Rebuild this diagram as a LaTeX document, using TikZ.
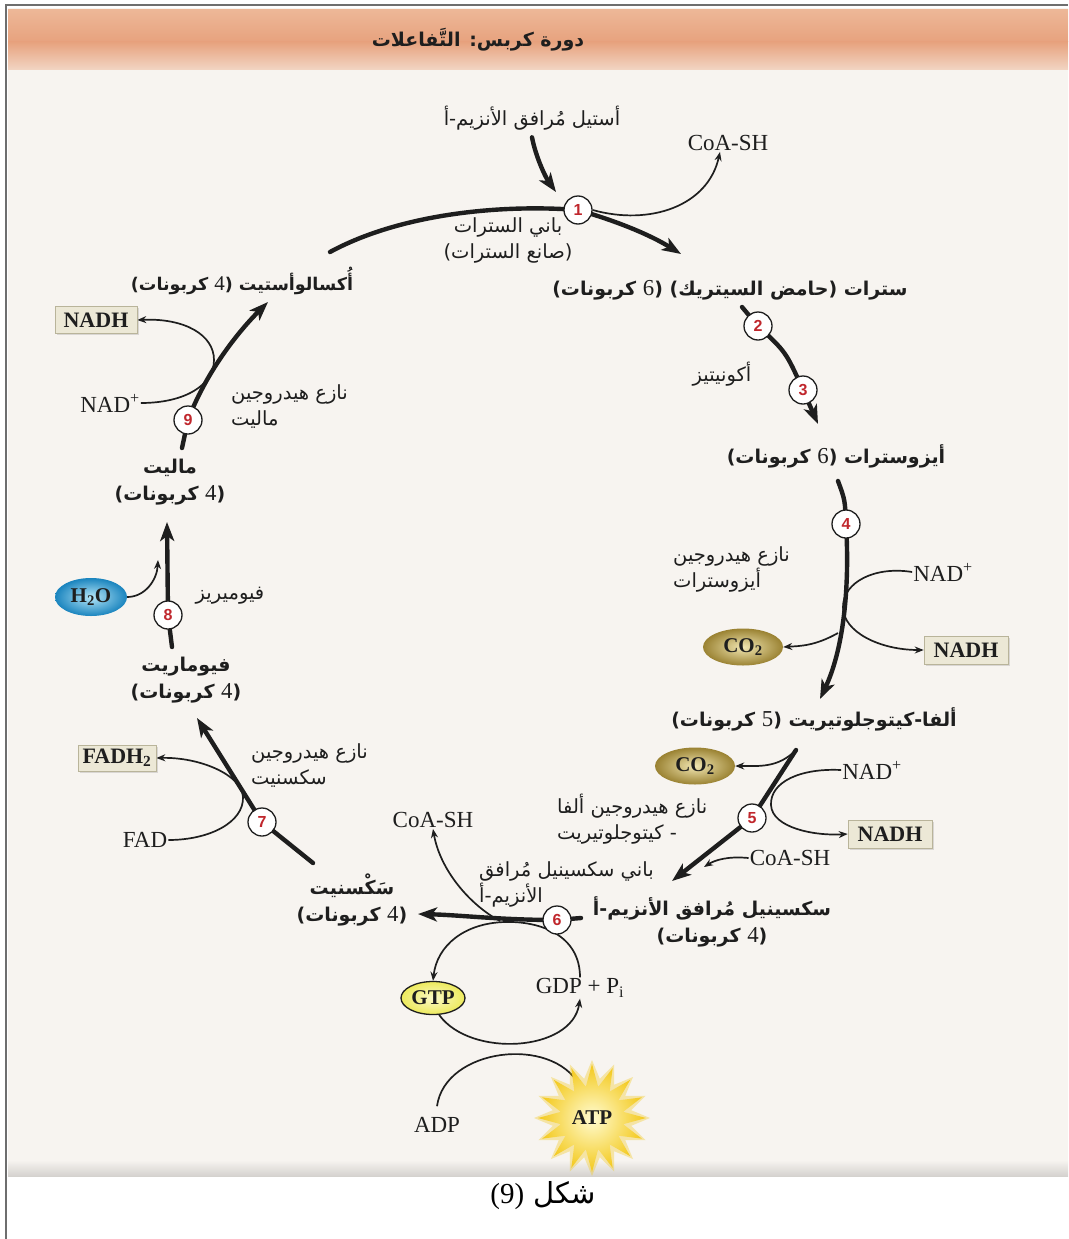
\documentclass[tikz,border=0pt]{standalone}
\usepackage{fontspec}
\setmainfont{Liberation Serif}
\newfontfamily\arfont[Script=Arabic]{DejaVu Sans}
\newfontfamily\numfont{Liberation Sans}
\newfontfamily\digfont[Scale=1.2]{Liberation Serif}
\TeXXeTstate=1
\usetikzlibrary{arrows.meta,shapes.geometric,shadows}

\definecolor{paper}{HTML}{F7F4F0}
\definecolor{hdrA}{HTML}{EDB797}
\definecolor{hdrB}{HTML}{E7A27E}
\definecolor{stepred}{HTML}{C0272D}
\definecolor{boxfill}{HTML}{ECE8D6}
\definecolor{boxedge}{HTML}{B9B49A}
\definecolor{co2in}{HTML}{F1E6B2}
\definecolor{co2out}{HTML}{9A8232}
\definecolor{h2oin}{HTML}{B4E6F8}
\definecolor{h2oout}{HTML}{1A84BE}
\definecolor{gtpin}{HTML}{FBFAC8}
\definecolor{gtpout}{HTML}{EDEA5C}
\definecolor{atpin}{HTML}{FFFBD0}
\definecolor{atpout}{HTML}{F3C81A}
\definecolor{ink}{HTML}{1E1E1E}
\definecolor{framegray}{HTML}{6E6E6E}

% right-to-left Arabic line, and a Latin digit inside it
\newcommand{\AR}[1]{\beginR #1\endR}
\newcommand{\dg}[1]{{\digfont\mdseries #1}}

\pgfdeclarelayer{paperlayer}
\pgfdeclarelayer{links}
\pgfsetlayers{paperlayer,links,main}

\begin{document}
\begin{tikzpicture}[x=1pt,y=-1pt,
  stepc/.style={circle,draw=ink,line width=1.3pt,fill=white,minimum size=28pt,inner sep=0pt,
    font=\numfont\bfseries\fontsize{16}{16}\selectfont,text=stepred},
  mainarr/.style={draw=ink,line width=4.4pt,line cap=round,line join=round,
    -{Stealth[length=19pt,width=14pt,inset=5pt]}},
  mainline/.style={draw=ink,line width=4.4pt,line cap=round,line join=round},
  thinarr/.style={draw=ink,line width=1.7pt,-{Stealth[length=9pt,width=7pt]}},
  lat/.style={font=\fontsize{23}{26}\selectfont,inner sep=1pt,text=ink},
  cmpd/.style={font=\arfont\bfseries\fontsize{19}{27}\selectfont,align=center,inner sep=1pt,text=ink},
  enz/.style={font=\arfont\fontsize{19.5}{26}\selectfont,inner sep=1pt,text=ink},
  carrier/.style={draw=boxedge,line width=0.6pt,fill=boxfill,
    font=\bfseries\fontsize{22}{22}\selectfont,text=ink,
    minimum width=84pt,minimum height=28pt,inner sep=2pt,
    drop shadow={shadow xshift=1.5pt,shadow yshift=-1.5pt,opacity=0.25}},
  gas/.style={ellipse,shade,minimum width=80pt,minimum height=37pt,inner sep=0pt,
    font=\bfseries\fontsize{21}{21}\selectfont,text=ink}
]
\useasboundingbox (0,0) rectangle (1068,1239);

% page, photographed sheet, header band and frame
\begin{pgfonlayer}{paperlayer}
\fill[white] (0,0) rectangle (1068,1239);
\fill[paper] (8,8) rectangle (1068,1176);
\shade[top color=hdrA, bottom color=hdrB] (8,10) rectangle (1068,42);
\shade[top color=hdrB, bottom color=hdrA!50!paper] (8,42) rectangle (1068,70);
\shade[top color=paper, bottom color=black!14!paper] (8,1160) rectangle (1068,1176);
\draw[framegray,line width=1.6pt] (6,1239) -- (6,5) -- (1068,5);
\end{pgfonlayer}

% title
\node[font=\arfont\bfseries\fontsize{19}{22}\selectfont,text=ink] (title) at (478,40) {\AR{دورة كربس: التَّفاعلات}};

% step circles
\node[stepc] (c1) at (578,210) {1};
\node[stepc] (c2) at (758,326) {2};
\node[stepc] (c3) at (803,390) {3};
\node[stepc] (c4) at (846,524) {4};
\node[stepc] (c5) at (752,818) {5};
\node[stepc] (c6) at (557,920) {6};
\node[stepc] (c7) at (262,822) {7};
\node[stepc] (c8) at (168,615) {8};
\node[stepc] (c9) at (188,420) {9};

% compounds
\node[cmpd] (citrate) at (730,290) {\AR{سترات (حامض السيتريك) (\dg{6} كربونات)}};
\node[cmpd] (isocit) at (836,456) {\AR{أيزوسترات (\dg{6} كربونات)}};
\node[cmpd] (akg) at (814,719) {\AR{ألفا-كيتوجلوتيريت (\dg{5} كربونات)}};
\node[cmpd] (succoa) at (712,922) {\AR{سكسينيل مُرافق الأنزيم-أ}\\\AR{(\dg{4} كربونات)}};
\node[cmpd] (succ) at (352,900) {\AR{سَكْسنيت}\\\AR{(\dg{4} كربونات)}};
\node[cmpd] (fum) at (186,680) {\AR{فيوماريت}\\\AR{(\dg{4} كربونات)}};
\node[cmpd] (mal) at (170,482) {\AR{ماليت}\\\AR{(\dg{4} كربونات)}};
\node[cmpd,font=\arfont\bfseries\fontsize{17.5}{25}\selectfont] (oaa) at (242,281) {\AR{أُكسالوأستيت (\dg{4} كربونات)}};
\node[enz] (acetyl) at (532,118) {\AR{أستيل مُرافق الأنزيم-أ}};

% enzymes
\node[enz,align=center] (citsyn) at (508,240) {\AR{باني السترات}\\\AR{(صانع السترات)}};
\node[enz] (aconit) at (722,374) {\AR{أكونيتيز}};
\node[enz,align=left,anchor=west] (idh) at (672,569) {\AR{نازع هيدروجين}\\\AR{أيزوسترات}};
\node[enz,align=left,anchor=west] (akgdh) at (556,819) {\AR{نازع هيدروجين ألفا}\\\AR{- كيتوجلوتيريت}};
\node[enz,align=left,anchor=west] (scs) at (478,884) {\AR{باني سكسينيل مُرافق}\\\AR{الأنزيم-أ}};
\node[enz,align=left,anchor=west] (sdh) at (250,766) {\AR{نازع هيدروجين}\\\AR{سكسنيت}};
\node[enz] (fumase) at (230,596) {\AR{فيوميريز}};
\node[enz,align=left,anchor=west] (mdh) at (230,407) {\AR{نازع هيدروجين}\\\AR{ماليت}};

% cofactors and by-products
\node[lat] (coa1) at (728,143) {CoA-SH};
\node[lat] (nad4) at (943,572) {NAD\textsuperscript{+}};
\node[carrier] (nadh4) at (966,650) {NADH};
\node[gas,inner color=co2in,outer color=co2out] (co2a) at (743,647) {CO\textsubscript{2}};
\node[gas,inner color=co2in,outer color=co2out] (co2b) at (695,766) {CO\textsubscript{2}};
\node[lat] (nad5) at (872,770) {NAD\textsuperscript{+}};
\node[carrier] (nadh5) at (890,834) {NADH};
\node[lat] (coa5) at (790,858) {CoA-SH};
\node[lat] (coa6) at (433,820) {CoA-SH};
\node[ellipse,shade,draw=ink,line width=1.3pt,inner color=gtpin,outer color=gtpout,
  minimum width=64pt,minimum height=33pt,inner sep=0pt,
  font=\bfseries\fontsize{21}{21}\selectfont,text=ink] (gtp) at (433,998) {GTP};
\node[lat] (gdp) at (580,988) {GDP + P\textsubscript{i}};
\node[lat] (adp) at (437,1125) {ADP};
\node[star,star points=16,star point ratio=1.45,minimum size=116pt,inner sep=0pt,
  fill=atpout,opacity=0.35] (atpglow) at (592,1118) {};
\node[star,star points=16,star point ratio=1.7,minimum size=108pt,inner sep=0pt,shade,
  inner color=atpin,outer color=atpout,
  font=\bfseries\fontsize{21}{21}\selectfont,text=ink] (atp) at (atpglow.center) {ATP};
\node[carrier,minimum width=78pt,minimum height=26pt] (fadh2) at (117,758) {FADH\textsubscript{2}};
\node[lat] (fad) at (145,840) {FAD};
\node[gas,inner color=h2oin,outer color=h2oout,minimum width=72pt,minimum height=38pt] (h2o) at (91,597) {H\textsubscript{2}O};
\node[carrier,minimum width=82pt,minimum height=27pt] (nadh9) at (96,320) {NADH};
\node[lat] (nad9) at (110,403) {NAD\textsuperscript{+}};

% caption
\node[font=\arfont\fontsize{29}{33}\selectfont,text=black] (cap) at (543,1196) {\AR{شكل {\rmfamily(9)}}};

% junction and tip points of the cycle
\coordinate (oaEnd) at (330,252);
\coordinate (acTip) at (556,192);
\coordinate (citTip) at (681,254);
\coordinate (s2a) at (742,307);
\coordinate (s3tip) at (818,424);
\coordinate (s4a) at (838,481);
\coordinate (j4) at (838,633);
\coordinate (s4tip) at (820,699);
\coordinate (s5a) at (796,750);
\coordinate (j5) at (704,867);
\coordinate (s5tip) at (672,881);
\coordinate (s6stub) at (581,918);
\coordinate (j6) at (500,921);
\coordinate (s6tip) at (418,914);
\coordinate (s7a) at (313,863);
\coordinate (s7tip) at (197,718);
\coordinate (s8a) at (172,647);
\coordinate (j8) at (158,560);
\coordinate (s8tip) at (167,522);
\coordinate (s9a) at (182,448);
\coordinate (s9tip) at (268,302);
\coordinate (atpTip) at (582,1090);

\begin{pgfonlayer}{links}
% step 1
\draw[mainarr] ([yshift=-6pt]acetyl.south) .. controls (536,158) and (546,178) .. (acTip);
\draw[mainline] (oaEnd) .. controls (400,214) and (500,204) .. (c1.center);
\draw[mainarr] (c1.center) .. controls (620,222) and (652,236) .. (citTip);
\draw[thinarr] (c1.east) .. controls (650,226) and (708,206) .. ([xshift=-8pt]coa1.south);
% steps 2 and 3
\draw[mainarr] (s2a) -- (c2.center) .. controls (786,352) .. (c3.center) -- (s3tip);
% step 4
\draw[mainarr] (s4a) .. controls (845,500) .. (c4.center) .. controls (850,590) and (843,650) .. (s4tip);
\draw[thinarr] (nad4.west) .. controls (875,566) and (843,582) .. (843,607)
  .. controls (843,632) and (880,650) .. (nadh4.west);
\draw[thinarr] (j4) .. controls (815,646) and (800,646) .. (co2a.east);
% step 5
\draw[mainarr] (s5a) -- (c5.center) -- (s5tip);
\draw[thinarr] (s5a) .. controls (778,768) and (760,766) .. (co2b.east);
\draw[thinarr] (nad5.west) .. controls (800,768) and (770,782) .. (771,805)
  .. controls (772,828) and (815,836) .. (nadh5.west);
\draw[thinarr] (coa5.west) .. controls (728,856) and (715,860) .. (j5);
% step 6
\draw[mainline] (c6.center) -- (s6stub);
\draw[mainarr] (c6.center) .. controls (500,920) and (460,915) .. (s6tip);
\draw[thinarr] (j6) .. controls (470,905) and (440,870) .. (coa6.south);
\draw[thinarr] (gdp.north) .. controls (580,935) and (540,921) .. (505,922)
  .. controls (465,923) and (437,945) .. (gtp.north);
\draw[thinarr] (gtp.-70) .. controls (470,1058) and (572,1052) .. (gdp.south);
\draw[thinarr] ([yshift=10pt]adp.north) .. controls (445,1048) and (552,1035) .. (atpTip);
% step 7
\draw[mainarr] (s7a) -- (c7.center) -- (s7tip);
\draw[thinarr] (fad.east) .. controls (210,840) and (244,822) .. (243,797)
  .. controls (242,775) and (200,757) .. (fadh2.east);
% step 8
\draw[mainarr] (s8a) -- (c8.center) -- (s8tip);
\draw[thinarr] (h2o.east) .. controls (145,597) and (157,580) .. (j8);
% step 9
\draw[mainarr] (s9a) -- (c9.center) .. controls (205,375) and (235,335) .. (s9tip);
\draw[thinarr] (nad9.east) .. controls (185,403) and (214,385) .. (214,360)
  .. controls (214,335) and (185,318) .. (nadh9.east);
\end{pgfonlayer}
\end{tikzpicture}
\end{document}
